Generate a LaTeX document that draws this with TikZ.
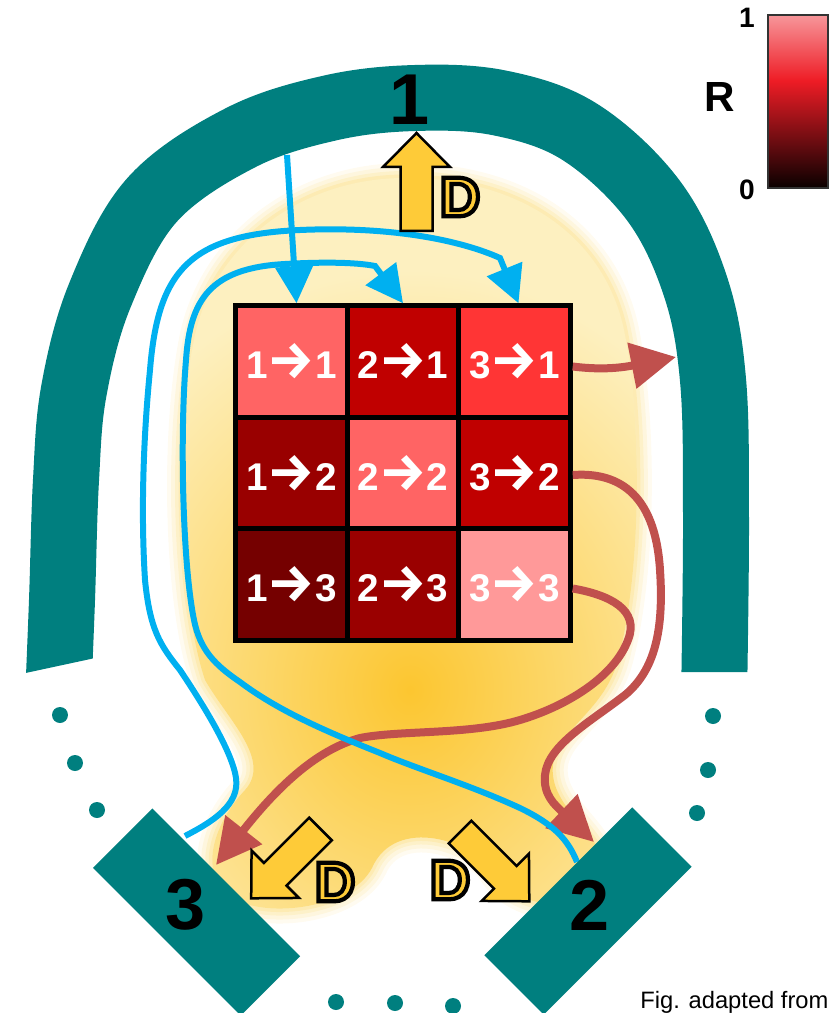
\documentclass[tikz,border=0pt]{standalone}
\usepackage{fontspec}
\setmainfont{Liberation Sans}
\newfontfamily\arrowfont{Fira Sans}
\usetikzlibrary{arrows.meta,calc}
\definecolor{tealc}{HTML}{007F7F}
\definecolor{cyanc}{HTML}{00B0F0}
\definecolor{redc}{HTML}{C0504D}
\definecolor{yellowc}{HTML}{FECB38}
\definecolor{blobpale}{HTML}{FDF0C0}
\definecolor{blobmid}{HTML}{FBDD80}
\definecolor{blobcore}{HTML}{FCC630}
\definecolor{cA}{HTML}{FF6464}
\definecolor{cB}{HTML}{C00000}
\definecolor{cC}{HTML}{FF3535}
\definecolor{cD}{HTML}{990000}
\definecolor{cE}{HTML}{750000}
\definecolor{cF}{HTML}{9A0000}
\definecolor{cG}{HTML}{FF9999}
\definecolor{cbk}{HTML}{0A0000}
\definecolor{cdk}{HTML}{5A0A0E}
\definecolor{cred}{HTML}{EE1C25}
\definecolor{cpink}{HTML}{F7969A}
\pgfdeclareverticalshading{rbar}{100bp}{color(0bp)=(cbk); color(25bp)=(cbk); color(36bp)=(cdk); color(56bp)=(cred); color(75bp)=(cpink); color(100bp)=(cpink)}
\newcommand\blobpath{(405,178) .. controls (525,178) and (605,240) .. (624,330) .. controls (642,420) and (642,570) .. (618,660) .. controls (602,720) and (540,735) .. (555,785) .. controls (568,825) and (625,850) .. (595,890) .. controls (570,915) and (515,905) .. (495,875) .. controls (475,840) and (395,815) .. (372,868) .. controls (350,910) and (260,920) .. (228,895) .. controls (198,870) and (215,822) .. (245,790) .. controls (272,760) and (228,720) .. (205,680) .. controls (178,600) and (175,430) .. (195,335) .. controls (215,245) and (300,178) .. (405,178) -- cycle}
\newcommand\celltext[2]{#1{\arrowfont\bfseries\fontsize{30}{30}\selectfont →}#2}
\newcommand\outlinedD{\textcolor{yellowc}{\special{pdf:literal 0 0 0 RG 2.4 w 2 Tr}D\special{pdf:literal 0 Tr}}}
\begin{document}
\begin{tikzpicture}[x=0.02cm,y=-0.02cm,
  cellbox/.style={draw=black, line width=0.1cm, minimum size=2.23cm, inner sep=0pt, text=white, font=\bfseries\fontsize{22}{22}\selectfont},
  bigdigit/.style={font=\bfseries\fontsize{41}{41}\selectfont, text=black, inner sep=0pt},
  bluepath/.style={draw=cyanc, line width=0.12cm, -{Triangle[length=0.74cm,width=0.74cm]}},
  redpath/.style={draw=redc, line width=0.16cm, -{Triangle[length=0.9cm,width=0.9cm]}},
  fatarrow/.style={draw=black, line width=0.05cm, fill=yellowc, line join=miter},
  dlab/.style={font=\bfseries\fontsize{32}{32}\selectfont, inner sep=0pt},
  dotn/.style={circle, fill=tealc, minimum size=0.32cm, inner sep=0pt},
  detbox/.style={fill=tealc, minimum width=4.18cm, minimum height=1.68cm, inner sep=0pt},
  axlab/.style={font=\bfseries\fontsize{16}{16}\selectfont, inner sep=0pt}
]
\useasboundingbox (0,0) rectangle (829,1013);
% yellow glow
\foreach \w/\o in {0.6/0.12, 0.44/0.16, 0.28/0.22, 0.14/0.3}{
  \draw[blobmid, line width=\w cm, opacity=\o, line join=round] \blobpath;
}
\fill[blobpale] \blobpath;
\begin{scope}
  \clip \blobpath;
  \shade[inner color=blobcore, outer color=blobpale] (410,690) ellipse (7.4cm and 8.4cm);
\end{scope}
% arch (detector 1)
\begin{scope}
  \clip (0,0) -- (829,0) -- (829,672) -- (400,672) -- (400,640) -- (130,650.5) -- (0,678.5) -- cycle;
  \draw[tealc, line width=1.32cm] plot[smooth, tension=0.6] coordinates {(58,700) (62,600) (66,480) (74,390) (100,295) (152,200) (240,138) (330,108) (415,98) (500,103) (580,132) (653,200) (695,285) (713,380) (716,520) (714,700)};
\end{scope}
% dots
\node[dotn] (dl1) at (60,715) {};
\node[dotn] (dl2) at (75,763) {};
\node[dotn] (dl3) at (97,810) {};
\node[dotn] (dr1) at (713,716) {};
\node[dotn] (dr2) at (708,770) {};
\node[dotn] (dr3) at (697,813) {};
\node[dotn] (db1) at (336,1002) {};
\node[dotn] (db2) at (395,1003) {};
\node[dotn] (db3) at (453,1006) {};
% grid
\node[cellbox, fill=cA] (c11) at (291.5,361.5) {\celltext{1}{1}};
\node[cellbox, fill=cB] (c21) at (403,361.5) {\celltext{2}{1}};
\node[cellbox, fill=cC] (c31) at (514.5,361.5) {\celltext{3}{1}};
\node[cellbox, fill=cD] (c12) at (291.5,473) {\celltext{1}{2}};
\node[cellbox, fill=cA] (c22) at (403,473) {\celltext{2}{2}};
\node[cellbox, fill=cB] (c32) at (514.5,473) {\celltext{3}{2}};
\node[cellbox, fill=cE] (c13) at (291.5,584.5) {\celltext{1}{3}};
\node[cellbox, fill=cF] (c23) at (403,584.5) {\celltext{2}{3}};
\node[cellbox, fill=cG] (c33) at (514.5,584.5) {\celltext{3}{3}};
% free ends
\coordinate (bAs) at (287,155);
\coordinate (bBs) at (185,836);
\coordinate (bCs) at (577,862);
\coordinate (r1e) at (676,357);
\coordinate (r2e) at (594,842);
\coordinate (r3e) at (216,865);
% red paths
\draw[redpath] ($(c31.east)+(0,5)$) .. controls (600,370) and (620,368) .. (r1e);
\draw[redpath] ($(c32.east)+(0,2)$) .. controls (615,472) and (655,490) .. (660,570) .. controls (664,630) and (655,670) .. (625,695) .. controls (590,722) and (548,745) .. (545,775) .. controls (543,795) and (555,805) .. (r2e);
\draw[redpath] ($(c33.east)+(0,4)$) .. controls (610,595) and (640,610) .. (628,640) .. controls (615,675) and (570,705) .. (520,720) .. controls (470,735) and (400,730) .. (360,738) .. controls (315,750) and (275,790) .. (r3e);
% blue paths
\draw[bluepath] (bAs) -- ($(c11.north)+(5,0)$);
\draw[bluepath] (bBs) .. controls (212,822) and (240,805) .. (236,778) .. controls (232,750) and (200,700) .. (180,670) .. controls (160,645) and (150,630) .. (145,580) .. controls (140,500) and (145,420) .. (150,370) .. controls (158,270) and (190,235) .. (300,230) .. controls (390,226) and (460,240) .. (500,258) -- ($(c31.north)+(4,0)$);
\draw[bluepath] (bCs) .. controls (568,840) and (555,825) .. (520,808) .. controls (470,785) and (420,770) .. (380,753) .. controls (330,733) and (280,712) .. (240,682) .. controls (215,665) and (200,650) .. (194,620) .. controls (182,560) and (180,430) .. (186,360) .. controls (190,300) and (210,268) .. (285,264) .. controls (320,262) and (355,262) .. (375,266) -- (c21.north);
% detectors 2 and 3
\node[detbox, rotate=-45] (d3) at (196.5,912) {};
\node[detbox, rotate=45] (d2) at (588,911) {};
% fat D arrows
\draw[fatarrow, shift={(416.5,231)}, rotate=90] (0,-16) -- (64,-16) -- (64,-33.5) -- (98,0) -- (64,33.5) -- (64,16) -- (0,16) -- cycle;
\draw[fatarrow, shift={(320.5,829)}, rotate=225] (0,-16) -- (64,-16) -- (64,-33.5) -- (98,0) -- (64,33.5) -- (64,16) -- (0,16) -- cycle;
\draw[fatarrow, shift={(460,832)}, rotate=-45] (0,-16) -- (64,-16) -- (64,-33.5) -- (98,0) -- (64,33.5) -- (64,16) -- (0,16) -- cycle;
% detector labels
\node[bigdigit] (l1) at (410,100) {1};
\node[bigdigit] (l3) at (186,905) {3};
\node[bigdigit] (l2) at (590,905) {2};
% colour bar
\node[shade, shading=rbar, draw=black!80, line width=0.025cm, minimum width=1.2cm, minimum height=3.46cm, inner sep=0pt] (cbar) at (798,101.5) {};
\node[axlab] (cb1) at (747,18) {1};
\node[axlab] (cb0) at (747,190) {0};
\node[font=\bfseries\fontsize{24}{24}\selectfont, inner sep=0pt] (rlab) at (720,97) {R};
% credit
\node[anchor=base west, font=\fontsize{13.5}{13.5}\selectfont, inner sep=0pt] (credit) at (640,1008) {Fig. adapted from};
% D labels (outlined)
\node[dlab] (dU) at (460,197) {\outlinedD};
\node[dlab] (dL) at (335,882) {\outlinedD};
\node[dlab] (dR) at (450,880) {\outlinedD};
\end{tikzpicture}
\end{document}
